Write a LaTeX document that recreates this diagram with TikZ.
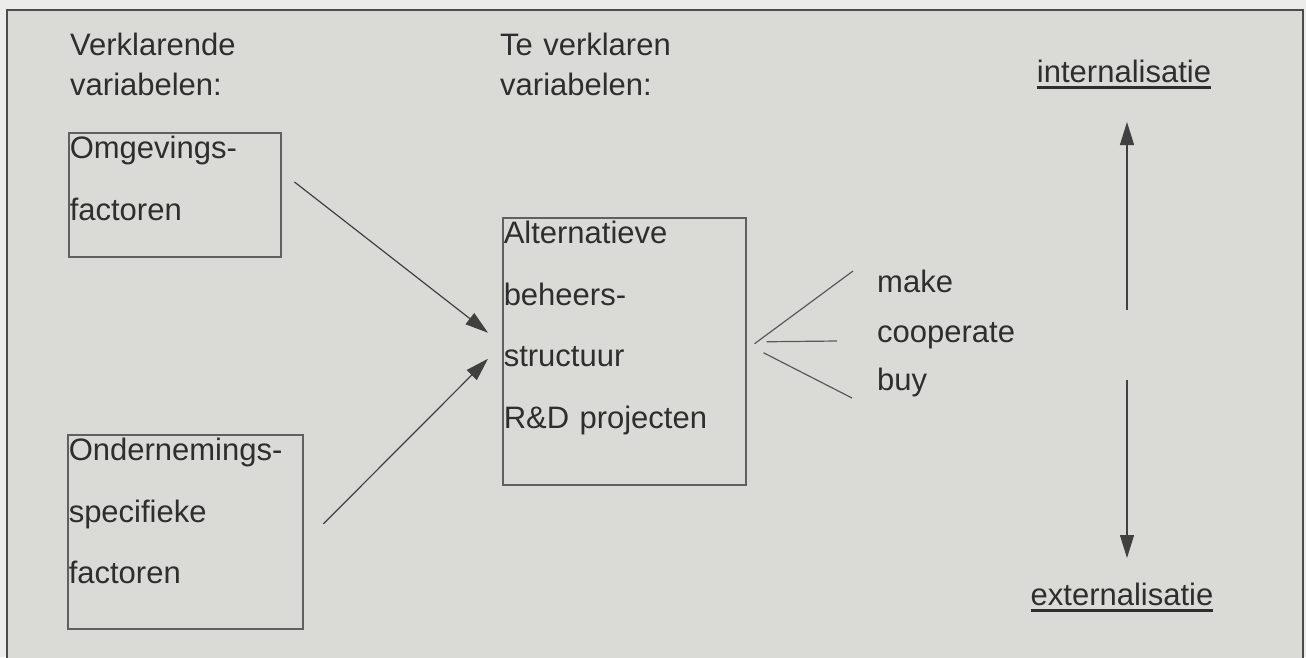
\documentclass[tikz,border=0pt]{standalone}
\usepackage{fontspec}
\setmainfont{Liberation Sans}
\usetikzlibrary{arrows.meta}
\definecolor{papier}{RGB}{236,236,234}
\definecolor{vlak}{RGB}{218,218,215}
\newcommand{\undl}[1]{\setbox0\hbox{#1}\rlap{\rule[-6.5pt]{\wd0}{2.5pt}}\box0}

\begin{document}
\begin{tikzpicture}[x=1pt,y=-1pt]
        \tikzstyle{every node}=[text=black!82, font=\fontsize{31}{61.5}\selectfont, inner sep=0pt]
        \tikzstyle{factor}=[draw=gray!75!black, line width=1.5pt, anchor=north west, align=left, inner xsep=1pt, inner ysep=1pt, text height=25pt]
        \tikzstyle{head}=[anchor=base west, align=left, text width=250pt, font=\fontsize{31}{40}\selectfont]
        \tikzstyle{choice}=[anchor=base west]
        \tikzstyle{pijl}=[draw=black!75, line width=1.2pt, -{Triangle[length=23pt,width=14pt]}]
        \tikzstyle{tak}=[draw=gray!70!black, line width=1.2pt]

        \useasboundingbox[fill=papier] (0,0) rectangle (1306,657);
        \filldraw[fill=vlak, draw=black!70, line width=2pt] (7,662) -- (7,10) -- (1303,10) -- (1303,662);

        \node[head] (verkl)   at (70,55)  {Verklarende\\variabelen:};
        \node[head] (teverkl) at (500,55) {Te verklaren\\variabelen:};

        \node[factor, text width=210pt, text depth=97pt]  (omg) at (68,132)  {Omgevings-\\factoren};
        \node[factor, text width=233pt, text depth=167pt] (ond) at (67,434)  {Ondernemings-\\specifieke\\factoren};
        \node[factor, text width=241pt, text depth=240pt] (ctr) at (502,217) {Alternatieve\\beheers-\\structuur\\R\&D projecten};

        \node[choice] (make) at (877,292) {make};
        \node[choice] (coop) at (877,342) {cooperate};
        \node[choice] (buy)  at (877,390) {buy};

        \node[anchor=base] (intl) at (1124,82)  {\undl{internalisatie}};
        \node[anchor=base] (extl) at (1122,605) {\undl{externalisatie}};
        \coordinate (split) at (1127,345);

        \draw[pijl] ([shift={(13,50)}]omg.north east) -- ([shift={(-14,-18.5)}]ctr.west);
        \draw[pijl] ([shift={(20,-8)}]ond.east) -- ([shift={(-14,7.5)}]ctr.west);

        \draw[tak] ([shift={(8,-7.5)}]ctr.east) -- ([shift={(-24,-21)}]make.base west);
        \draw[tak] ([shift={(20,-9.5)}]ctr.east) -- ([shift={(-40,-1)}]coop.base west);
        \draw[tak] ([shift={(17,1.5)}]ctr.east) -- ([shift={(-25,8)}]buy.base west);

        \draw[pijl] ([shift={(0,-35)}]split) -- ([shift={(0,-223)}]split);
        \draw[pijl] ([shift={(0,35)}]split) -- ([shift={(0,213)}]split);
\end{tikzpicture}
\end{document}
